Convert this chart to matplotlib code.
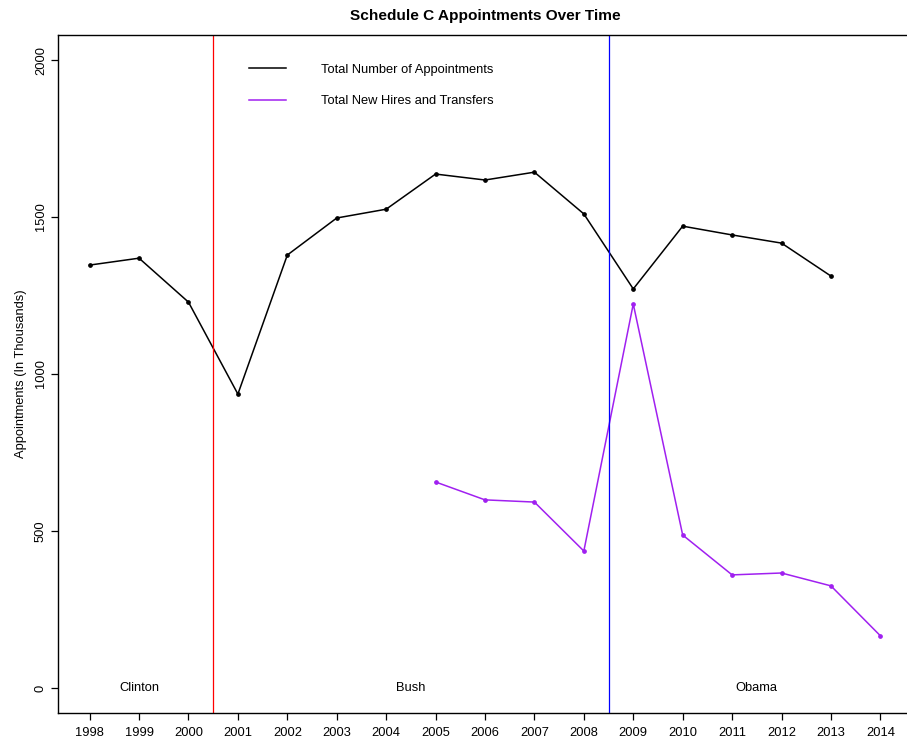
import matplotlib
matplotlib.use('Agg')
import matplotlib.pyplot as plt

# Data
years = [1998, 1999, 2000, 2001, 2002, 2003, 2004, 2005, 2006, 2007,
         2008, 2009, 2010, 2011, 2012, 2013]
total = [1347, 1369, 1229, 936, 1379, 1497, 1525, 1637, 1618, 1643,
         1510, 1271, 1471, 1443, 1417, 1312]

hire_years = [2005, 2006, 2007, 2008, 2009, 2010, 2011, 2012, 2013, 2014]
hires = [656, 599, 592, 436, 1223, 487, 360, 366, 325, 166]

xticks = list(range(1998, 2015))
yticks = [0, 500, 1000, 1500, 2000]

presidents = ['Clinton', 'Bush', 'Obama']
pres_x = [1999, 2004.5, 2011.5]
transitions = [2000.5, 2008.5]
trans_colors = ['red', 'blue']

plt.rcParams['font.family'] = ['Liberation Sans', 'DejaVu Sans']
fs = 9.3

fig = plt.figure(figsize=(9.07, 7.40), dpi=100)
W, H = 907, 740
ax = fig.add_axes([58 / W, 27 / H, (912 - 58) / W, (713 - 35) / H])

ax.plot(years, total, color='black', lw=1.1, marker='o', ms=2.4,
        label='Total Number of Appointments')
ax.plot(hire_years, hires, color='#A020F0', lw=1.1, marker='o', ms=2.4,
        label='Total New Hires and Transfers')

for xv, c in zip(transitions, trans_colors):
    ax.axvline(xv, color=c, lw=0.9)

for name, xv in zip(presidents, pres_x):
    ax.text(xv, 0, name, ha='center', va='center', fontsize=fs)

ax.set_xlim(1997.36, 2014.64)
ax.set_ylim(-80, 2080)
ax.set_xticks(xticks)
ax.set_yticks(yticks)
ax.set_yticklabels([str(v) for v in yticks], rotation=90, va='center')
ax.tick_params(labelsize=fs, length=5, width=0.9)
ax.tick_params(axis='x', pad=5)
ax.tick_params(axis='y', pad=3)
for s in ax.spines.values():
    s.set_linewidth(1.0)

ax.set_ylabel('Appointments (In Thousands)', fontsize=fs, labelpad=6)
ax.set_title('Schedule C Appointments Over Time', fontsize=11.1,
             fontweight='bold', pad=11)

ax.legend(loc='upper left', bbox_to_anchor=(0.21, 0.975), frameon=False,
          fontsize=fs, handlelength=2.9, handletextpad=2.7, labelspacing=1.5,
          markerscale=0)

fig.savefig('out.png', dpi=100)
